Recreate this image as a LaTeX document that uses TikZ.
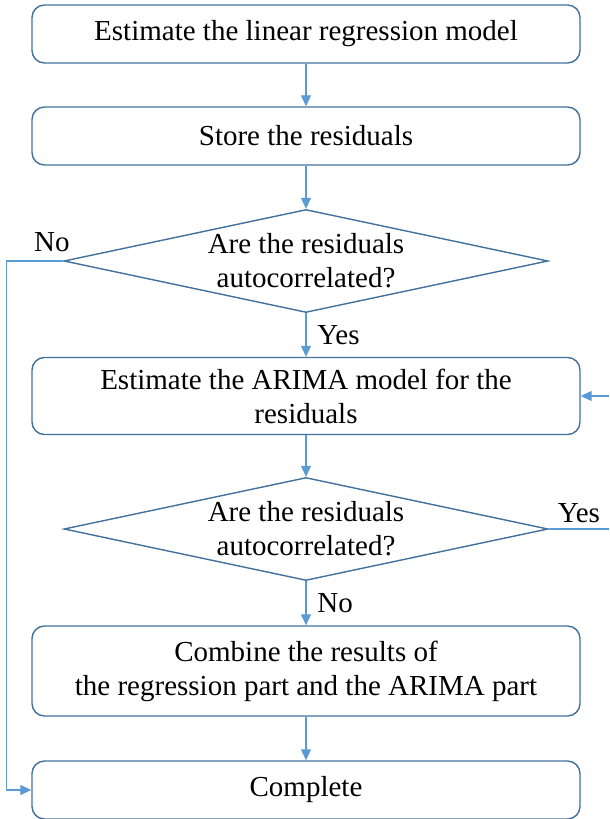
\documentclass[tikz,border=0pt]{standalone}
\usepackage{fontspec}
\setmainfont{Liberation Serif}
\usetikzlibrary{shapes.geometric,arrows.meta}
\definecolor{boxblue}{HTML}{41719C}
\definecolor{lineblue}{HTML}{5B9BD5}
\tikzstyle{process} = [rectangle, draw=boxblue, line width=0.8pt, rounded corners=0.25cm, text centered, align=center, minimum width=10.96cm, minimum height=1.16cm]
\tikzstyle{decision} = [diamond, aspect=4.7, draw=boxblue, line width=0.8pt, text centered, align=center, inner sep=0pt, minimum width=9.68cm, minimum height=2.06cm]
\tikzstyle{connector} = [draw=lineblue, line width=0.6pt, -{Triangle[length=0.22cm,width=0.2cm]}]
\tikzstyle{link} = [draw=lineblue, line width=0.6pt]
\begin{document}
\begin{tikzpicture}[font=\fontsize{16.5}{19.4}\selectfont]
        \useasboundingbox (0,0) rectangle (12.18,-16.38);
        \node (est) [process] at (6.12,-0.68) {Estimate the linear regression model};
        \node (store) [process, below of = est, yshift=-1.04cm] {Store the residuals};
        \node (check) [decision, below of = store, yshift=-1.5cm] {Are the residuals\\autocorrelated?};
        \node (arima) [process, below of = check, yshift=-1.7cm, minimum height=1.54cm] {
            Estimate the ARIMA model for the\\
            residuals
        };
        \node (recheck) [decision, below of = arima, yshift=-1.66cm] {Are the residuals\\autocorrelated?};
        \node (combine) [process, below of = recheck, yshift=-1.84cm, minimum height=1.8cm] {
            Combine the results of\\
            the regression part and the ARIMA part
        };
        \node (done) [process, below of = combine, yshift=-1.38cm] {Complete};
        \coordinate (edge) at (12.18,0);
        \coordinate (loopout) at (recheck.east -| edge);
        \coordinate (loopin) at (arima.east -| edge);
        \draw [connector] (est) -- (store);
        \draw [connector] (store) -- (check);
        \draw [connector] (check) -- node[right=1mm] {Yes} (arima);
        \draw [connector] (arima) -- (recheck);
        \draw [connector] (recheck) -- node[right=1mm] {No} (combine);
        \draw [connector] (combine) -- (done);
        \draw [link] (recheck.east) -- node[above] {Yes} (loopout);
        \draw [connector] (loopin) -- (arima.east);
        \draw [connector] (check.west) -- node[above=0.5mm, pos=0.2] {No} ++(-1.14cm,0) |- (done.west);
    \end{tikzpicture}
\end{document}
